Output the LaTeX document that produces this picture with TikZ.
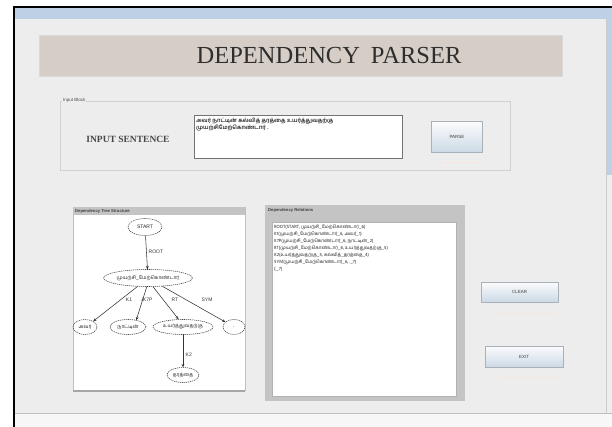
\documentclass[tikz,border=0pt]{standalone}
\usepackage{fontspec}
\setmainfont{Liberation Serif}
\newfontfamily\tamilf[Script=Tamil]{Hind Madurai}
\newfontfamily\uisans{Liberation Sans}
\usetikzlibrary{shapes.geometric,arrows.meta}
\definecolor{bodybg}{HTML}{EDEDED}
\definecolor{titlebar}{HTML}{BDD0E6}
\definecolor{bannerc}{HTML}{D6CEC6}
\definecolor{panelgray}{HTML}{C4C4C4}
\definecolor{btnedge}{HTML}{A8B0B8}
\definecolor{btntop}{HTML}{FBFCFD}
\definecolor{btnbot}{HTML}{CCD9E6}
\definecolor{glow}{HTML}{F8E6DC}
\newcommand\tinyui{\uisans\fontsize{4.5}{5.5}\selectfont}
\tikzset{
  btn/.style={draw=btnedge, top color=btntop, bottom color=btnbot, rectangle,
    inner sep=0, font=\tinyui, text=black!75},
  tnode/.style={ellipse, draw=black!75, dashed, dash pattern=on 1.2pt off 0.8pt,
    line width=0.55pt, inner sep=0, font=\tamilf\fontsize{5}{5.5}\selectfont, text=black!85},
  tedge/.style={draw=black!80, line width=0.55pt, -{Stealth[length=3.2pt,width=2.8pt]}},
  elabel/.style={font=\uisans\fontsize{5}{5.5}\selectfont, text=black!80, inner sep=0.5pt},
  hdr/.style={font=\uisans\bfseries\fontsize{4.2}{5}\selectfont, text=black!75, inner sep=0, anchor=west}
}
\begin{document}
\begin{tikzpicture}[x=1pt,y=-1pt]
\useasboundingbox (0,0) rectangle (612,427);
\fill[white] (0,0) rectangle (612,427);
% window body
\fill[bodybg] (15,8) rectangle (612,413);
\fill[titlebar] (15,8) rectangle (612,19);
\fill[white!97!black] (15,413) rectangle (612,427);
\draw[black!25, line width=0.8pt] (15,413) -- (612,413);
\fill[titlebar] (607,19) rectangle (612,175);
\draw[black!20] (606,19) -- (606,413);
\draw[black, line width=2pt] (14,7) -- (612,7);
\draw[black, line width=2pt] (14,6) -- (14,427);
% banner
\fill[bannerc] (39,35) rectangle (562,76);
\draw[white!85!black] (39,35) rectangle (562,76);
\node[font=\fontsize{24.5}{26}\selectfont, text=black!82, inner sep=0] (title) at (329,56) {DEPENDENCY\hspace{0.45em}PARSER};
% input block
\draw[black!18, line width=0.7pt] (60,101) rectangle (510,170);
\node[font=\tinyui, text=black!70, fill=bodybg, inner sep=1pt, anchor=west] (iblabel) at (62,100) {Input Block};
\node[font=\bfseries\fontsize{9.5}{10}\selectfont, text=black!72, inner sep=0] (inlabel) at (128,139) {INPUT SENTENCE};
\draw[black!55, fill=white, line width=1pt] (194,116) rectangle (402,159);
\node[anchor=north west, align=left, inner sep=0, font=\tamilf\bfseries\fontsize{5.6}{6.6}\selectfont, text=black!85] (sentence) at (196,118)
  {அவர் நாட்டின் கல்வித் தரத்தை உயர்த்துவதற்கு\\முயற்சிமேற்கொண்டார் .};
\node[btn, minimum width=51pt, minimum height=31pt] (parse) at (457,137) {PARSE};
\draw[glow, line width=1pt] (440,163) -- (480,163);
% tree panel
\fill[white] (73,207) rectangle (245,390);
\draw[black!25] (73,207) rectangle (245,390);
\fill[panelgray] (73,207) rectangle (245,215);
\draw[black!35, line width=1.2pt] (73,391) -- (245,391);
\node[hdr] (treehdr) at (75,211) {Dependency Tree Structure};
\node[tnode, minimum width=34pt, minimum height=17pt] (start) at (145,227) {\uisans START};
\node[tnode, minimum width=80pt, minimum height=17pt] (main) at (148,278) {முயற்சி\_மேற்கொண்டார்};
\node[tnode, minimum width=24pt, minimum height=15pt] (c1) at (85,327) {அவர்};
\node[tnode, minimum width=36pt, minimum height=15pt] (c2) at (128,327) {நாட்டின்};
\node[tnode, minimum width=60pt, minimum height=15pt] (c3) at (183,327) {உயர்த்துவதற்கு};
\node[tnode, minimum width=22pt, minimum height=15pt] (c4) at (234,327) {.};
\node[tnode, minimum width=32pt, minimum height=15pt] (c5) at (183,375) {தரத்தை};
\draw[tedge] (start) -- (main);
\draw[tedge] (main.219) -- (c1.35);
\draw[tedge] (main.262) -- (c2.40);
\draw[tedge] (main.300) -- (c3.120);
\draw[tedge] (main.330) -- (c4.150);
\draw[tedge] (c3) -- (c5);
\node[elabel, anchor=west] (l0) at (148,252) {ROOT};
\node[elabel] (l1) at (129,300) {K1};
\node[elabel] (l2) at (147,300) {/K7P};
\node[elabel] (l3) at (175,300) {RT};
\node[elabel] (l4) at (207,300) {SYM};
\node[elabel, anchor=west] (l5) at (185,355) {K2};
% relations panel
\fill[panelgray] (265,205) rectangle (465,401);
\node[hdr] (relhdr) at (268,210) {Dependency Relations};
\fill[white] (272,222) rectangle (456,396);
\draw[black!30] (272,222) rectangle (456,396);
\node[anchor=north west, align=left, inner sep=0, font=\tamilf\fontsize{4.6}{7}\selectfont, text=black!88] (rels) at (274,225)
  {ROOT(START, முயற்சி\_மேற்கொண்டார்\_6)\\
   K1(முயற்சி\_மேற்கொண்டார்\_6, அவர்\_1)\\
   K7P(முயற்சி\_மேற்கொண்டார்\_6, நாட்டின்\_2)\\
   RT(முயற்சி\_மேற்கொண்டார்\_6, உயர்த்துவதற்கு\_5)\\
   K2(உயர்த்துவதற்கு\_5, கல்வித்\_தரத்தை\_4)\\
   SYM(முயற்சி\_மேற்கொண்டார்\_6, .\_7)\\
   (.\_7)};
% buttons
\node[btn, minimum width=77pt, minimum height=20pt] (clear) at (519.5,292) {CLEAR};
\draw[glow, line width=1pt] (495,313) -- (555,313);
\node[btn, minimum width=78pt, minimum height=21pt] (exit) at (524,356.5) {EXIT};
\draw[glow, line width=1pt] (500,377) -- (560,377);
\end{tikzpicture}
\end{document}
